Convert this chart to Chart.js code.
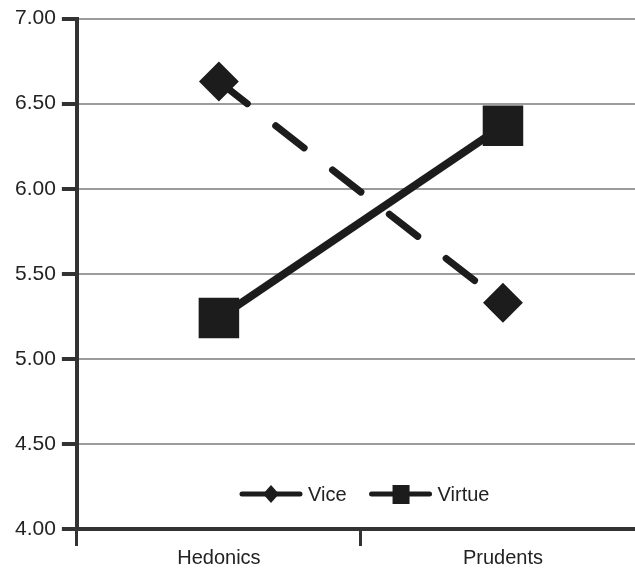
<!DOCTYPE html>
<html lang="en">
<head>
  <meta charset="UTF-8" />
  <title>Vice vs Virtue</title>
  <script src="https://cdn.jsdelivr.net/npm/chart.js@4"></script>
  <style>
    html, body { margin: 0; padding: 0; background: #fff; overflow: hidden; }
  </style>
</head>
<body>
  <canvas id="chart" width="645" height="570"></canvas>

  <script>
  // Data
  const categories = ['Hedonics', 'Prudents'];
  const viceValues = [6.63, 5.33];
  const virtueValues = [5.24, 6.37];
  const yTicks = [4.0, 4.5, 5.0, 5.5, 6.0, 6.5, 7.0];

  const ink = '#1c1c1c';
  const fontFamily = '"Liberation Sans", Arial, sans-serif';

  // Legend drawn inside the plot, line + marker like the original
  const insideLegend = {
    id: 'insideLegend',
    afterDraw(chart) {
      const ctx = chart.ctx;
      const area = chart.chartArea;
      const y = area.bottom - 35;
      let x = 242;
      ctx.save();
      ctx.font = '20px ' + fontFamily;
      ctx.textBaseline = 'middle';
      chart.data.datasets.forEach(ds => {
        ctx.strokeStyle = ink;
        ctx.lineWidth = 5;
        ctx.lineCap = 'round';
        ctx.setLineDash([]);
        ctx.beginPath();
        ctx.moveTo(x, y);
        ctx.lineTo(x + 58, y);
        ctx.stroke();
        ctx.fillStyle = ink;
        const cx = x + 29;
        if (ds.pointStyle === 'rect') {
          ctx.fillRect(cx - 8, y - 9, 17, 19);
        } else {
          ctx.beginPath();
          ctx.moveTo(cx, y - 9);
          ctx.lineTo(cx + 8, y);
          ctx.lineTo(cx, y + 9);
          ctx.lineTo(cx - 8, y);
          ctx.closePath();
          ctx.fill();
        }
        ctx.fillStyle = '#222';
        ctx.fillText(ds.label, x + 66, y + 1);
        x += 66 + ctx.measureText(ds.label).width + 25;
      });
      ctx.restore();
    }
  };

  new Chart(document.getElementById('chart'), {
    type: 'line',
    data: {
      labels: categories,
      datasets: [
        {
          label: 'Vice',
          data: viceValues,
          borderColor: ink,
          backgroundColor: ink,
          borderWidth: 7,
          borderDash: [36, 36],
          borderCapStyle: 'round',
          pointStyle: 'rectRot',
          pointRadius: 15,
          pointHoverRadius: 15,
          tension: 0
        },
        {
          label: 'Virtue',
          data: virtueValues,
          borderColor: ink,
          backgroundColor: ink,
          borderWidth: 8,
          pointStyle: 'rect',
          pointRadius: 23,
          pointHoverRadius: 23,
          tension: 0
        }
      ]
    },
    options: {
      responsive: false,
      animation: false,
      layout: { autoPadding: false, padding: { top: 12, left: 9, right: 0, bottom: 0 } },
      plugins: {
        legend: { display: false },
        tooltip: { enabled: false }
      },
      scales: {
        x: {
          offset: true,
          grid: {
            offset: true,
            drawOnChartArea: false,
            tickColor: '#333',
            tickLength: 17,
            tickWidth: 3
          },
          border: { color: '#333', width: 4 },
          ticks: {
            color: '#222',
            padding: 0,
            font: { family: fontFamily, size: 20 }
          }
        },
        y: {
          min: 4,
          max: 7,
          afterBuildTicks(axis) {
            axis.ticks = yTicks.map(v => ({ value: v }));
          },
          grid: {
            color: '#9c9c9c',
            lineWidth: 2,
            tickColor: '#333',
            tickLength: 15,
            tickWidth: 4
          },
          border: { color: '#333', width: 4 },
          ticks: {
            color: '#222',
            padding: 6,
            callback: v => Number(v).toFixed(2),
            font: { family: fontFamily, size: 21 }
          }
        }
      }
    },
    plugins: [insideLegend]
  });
  </script>
</body>
</html>
